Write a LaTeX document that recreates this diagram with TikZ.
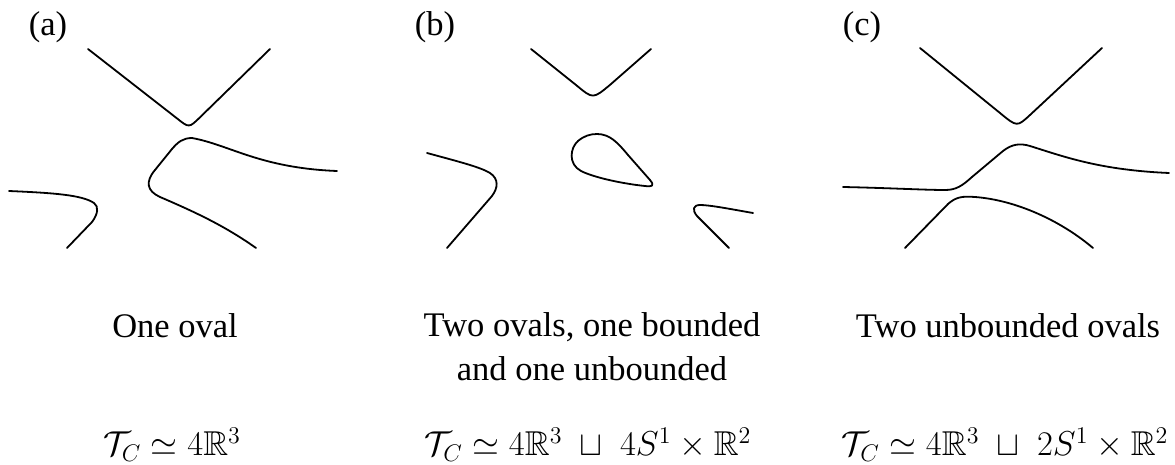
\documentclass[tikz,border=0pt]{standalone}
\usepackage{amsmath}
\usepackage{amssymb}
\usepackage{fontspec}
\setmainfont{Liberation Serif}
\usepackage{tikz}
\tikzset{
  branch/.style={line width=0.9pt, line join=round, line cap=round},
  tag/.style={anchor=base, inner sep=0pt, font=\fontsize{17.25}{22}\selectfont},
  caption/.style={anchor=base, inner sep=0pt, align=center,
    font=\fontsize{17.25}{22}\selectfont},
  formula/.style={anchor=base, inner sep=0pt, font=\fontsize{17.25}{22}\selectfont}
}

\begin{document}
\begin{tikzpicture}[x=0.5pt, y=-0.5pt]
  \useasboundingbox (0,0) rectangle (1175,465);

  % (a)
  \node[tag] (la) at (48,36) {(a)};
  \draw[branch] (88,49) -- (177,118.4) .. controls (189,128) .. (200,117.3) -- (270,49);
  \draw[branch] (337,171) .. controls (260,168) and (230,145) .. (192,138)
    .. controls (183,138) and (178,142) .. (172,149) -- (155,170)
    .. controls (145,182) and (147,191) .. (160,197)
    .. controls (195,212) and (225,226) .. (256,248);
  \draw[branch] (9,191) .. controls (55,193) and (82,195) .. (94,203)
    .. controls (99,206.5) and (98,214) .. (92,222) -- (67,248);
  \node[caption] (capa) at (175,337) {One oval};
  \node[formula] (fa) at (172,456) {$\mathcal{T}_C \simeq 4\mathbb{R}^3$};

  % (b)
  \node[tag] (lb) at (435,36) {(b)};
  \draw[branch] (531,49) -- (577,85.8) .. controls (593,99) .. (610,84.9) -- (651,49);
  \draw[branch] (427,153) .. controls (460,162) and (480,167) .. (490,173)
    .. controls (499,179) and (498,188) .. (492,196) -- (447,248);
  \draw[branch] (597,134) .. controls (610,134) and (618,143) .. (628,155)
    -- (650,180) .. controls (655,186) and (652,187) .. (645,186)
    .. controls (625,184) and (595,178) .. (581,171)
    .. controls (568,164) and (570,148) .. (578,141)
    .. controls (584,136) and (590,134) .. (597,134) -- cycle;
  \draw[branch] (753,213) .. controls (730,209) and (710,205) .. (700,205)
    .. controls (693,205) and (692,210) .. (697,216) -- (729,248);
  \node[caption] (capb) at (592,380) {Two ovals, one bounded\\and one unbounded};
  \node[formula] (fb) at (588,456)
    {$\mathcal{T}_C \simeq 4\mathbb{R}^3 \;\sqcup\; 4S^1 \times \mathbb{R}^2$};

  % (c)
  \node[tag] (lc) at (862,36) {(c)};
  \draw[branch] (920,48) -- (1000,113) .. controls (1017,127) .. (1030,115) -- (1102,48);
  \draw[branch] (843,187) .. controls (890,188) and (925,190) .. (945,190)
    .. controls (956,190) and (962,186) .. (972,177) -- (1003,151)
    .. controls (1012,144) and (1020,143) .. (1030,146)
    .. controls (1065,157) and (1100,170) .. (1169,173);
  \draw[branch] (905,248) -- (948,204)
    .. controls (956,197) and (962,196) .. (975,197)
    .. controls (1015,200) and (1060,220) .. (1093,248);
  \node[caption] (capc) at (1008,337) {Two unbounded ovals};
  \node[formula] (fc) at (1005,456)
    {$\mathcal{T}_C \simeq 4\mathbb{R}^3 \;\sqcup\; 2S^1 \times \mathbb{R}^2$};
\end{tikzpicture}
\end{document}
